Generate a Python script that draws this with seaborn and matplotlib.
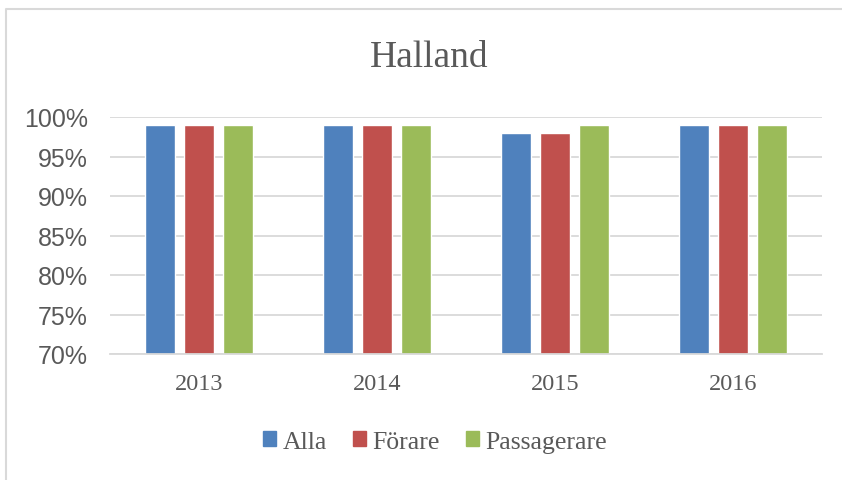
import pandas as pd
import matplotlib.pyplot as plt
import seaborn as sns
from matplotlib.lines import Line2D
from matplotlib.ticker import PercentFormatter

years = ["2013", "2014", "2015", "2016"]
series = ["Alla", "Förare", "Passagerare"]
alla = [0.99, 0.99, 0.98, 0.99]
forare = [0.99, 0.99, 0.98, 0.99]
passagerare = [0.99, 0.99, 0.99, 0.99]
colors = ["#4F81BD", "#C0504D", "#9BBB59"]

text_color = "#595959"
grid_color = "#D9D9D9"

df = pd.DataFrame({
    "year": years * 3,
    "share": alla + forare + passagerare,
    "group": [s for s in series for _ in years],
})

sns.set_style("white")
fig = plt.figure(figsize=(8.42, 4.81), dpi=100)
ax = fig.add_axes([110 / 842, 1 - 355 / 481, 712 / 842, 237 / 481])

sns.barplot(data=df, x="year", y="share", hue="group", palette=colors,
            width=0.657, gap=0.23, ax=ax, legend=False, saturation=1)

ax.set_ylim(0.70, 1.00)
ax.set_yticks([0.70, 0.75, 0.80, 0.85, 0.90, 0.95, 1.00])
ax.yaxis.set_major_formatter(PercentFormatter(1.0, decimals=0))
ax.grid(axis="y", color=grid_color, linewidth=1.3)
ax.set_axisbelow(True)
for side in ["left", "right", "top"]:
    ax.spines[side].set_visible(False)
ax.spines["bottom"].set_color(grid_color)
ax.spines["bottom"].set_linewidth(1.3)
ax.set_xlabel("")
ax.set_ylabel("")
ax.tick_params(axis="y", length=0, pad=16, labelsize=18, labelcolor=text_color)
ax.tick_params(axis="x", length=0, pad=14, labelsize=17.5, labelcolor=text_color)
for lab in ax.get_yticklabels():
    lab.set_fontfamily("Liberation Sans")
for lab in ax.get_xticklabels():
    lab.set_fontfamily("Liberation Serif")

fig.text(429 / 842, 1 - 58 / 481, "Halland", ha="center", va="center",
         fontsize=27, color=text_color, family="Liberation Serif")

handles = [plt.Rectangle((0, 0), 1, 1, color=c) for c in colors]
leg = fig.legend(handles, series, loc="center", bbox_to_anchor=(435 / 842, 1 - 443 / 481),
                 ncol=3, frameon=False, handlelength=0.52, handleheight=0.52,
                 handletextpad=0.25, columnspacing=1.0,
                 prop={"family": "Liberation Serif", "size": 18.5})
for t in leg.get_texts():
    t.set_color(text_color)

# chart frame (only top and left edges visible)
fig.add_artist(Line2D([6 / 842, 6 / 842, 1], [0, 1 - 10 / 481, 1 - 10 / 481],
                      transform=fig.transFigure, color=grid_color, linewidth=1.5))

fig.savefig("out.png", dpi=100)
